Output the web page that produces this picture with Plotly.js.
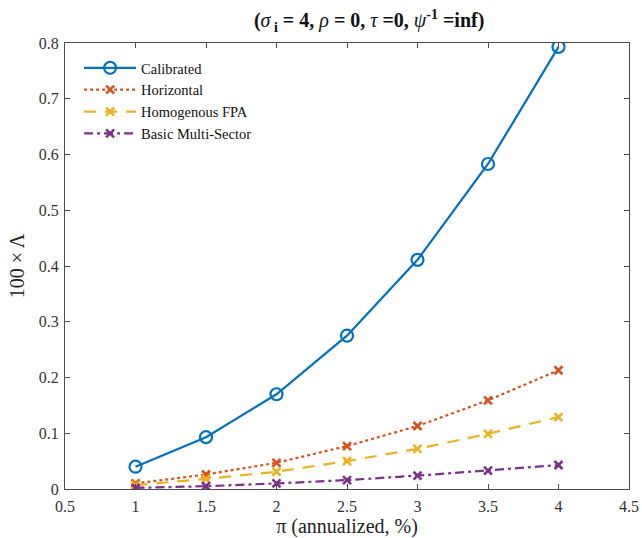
<!DOCTYPE html>
<html><head><meta charset="utf-8">
<script src="https://cdn.plot.ly/plotly-3.0.1.min.js"></script>
<style>html,body{margin:0;padding:0;background:#fff;}#chart{width:642px;height:538px;}</style>
</head><body><div id="chart"></div>
<script>
const inflation = [1, 1.5, 2, 2.5, 3, 3.5, 4];
const calibrated = [0.040, 0.093, 0.170, 0.275, 0.411, 0.583, 0.793];
const horizontal = [0.010, 0.026, 0.047, 0.077, 0.113, 0.159, 0.213];
const homogenousFPA = [0.007, 0.018, 0.031, 0.050, 0.072, 0.099, 0.129];
const basicMultiSector = [0.002, 0.005, 0.010, 0.016, 0.024, 0.033, 0.043];
const seriesNames = ['Calibrated', 'Horizontal', 'Homogenous FPA', 'Basic Multi-Sector'];
const xTicks = [0.5, 1, 1.5, 2, 2.5, 3, 3.5, 4, 4.5];
const yTicks = [0, 0.1, 0.2, 0.3, 0.4, 0.5, 0.6, 0.7, 0.8];

const colors = ['#0072BD', '#D95319', '#EDB120', '#7E2F8E'];
const serif = 'Liberation Serif, Times New Roman, serif';

const traces = [
  {x: inflation, y: calibrated, name: seriesNames[0], mode: 'lines+markers',
   line: {color: colors[0], width: 2.2},
   marker: {symbol: 'circle-open', size: 12, color: colors[0], line: {width: 2.2}}},
  {x: inflation, y: horizontal, name: seriesNames[1], mode: 'lines+markers',
   line: {color: colors[1], width: 2.2, dash: 'dot'},
   marker: {symbol: 'x-thin-open', size: 8, color: colors[1], line: {width: 2.6, color: colors[1]}}},
  {x: inflation, y: homogenousFPA, name: seriesNames[2], mode: 'lines+markers',
   line: {color: colors[2], width: 2.2, dash: '12px,9px'},
   marker: {symbol: 'x-thin-open', size: 8, color: colors[2], line: {width: 2.6, color: colors[2]}}},
  {x: inflation, y: basicMultiSector, name: seriesNames[3], mode: 'lines+markers',
   line: {color: colors[3], width: 2.2, dash: '9px,4px,3px,4px'},
   marker: {symbol: 'x-thin-open', size: 8, color: colors[3], line: {width: 2.6, color: colors[3]}}}
];

const axisCommon = {
  showgrid: false, zeroline: false, showline: true, linecolor: '#4d4d4d', linewidth: 1,
  mirror: 'ticks', ticks: 'inside', ticklen: 5, tickcolor: '#4d4d4d',
  tickfont: {family: serif, size: 16, color: '#333'}
};

const layout = {
  width: 642, height: 538,
  paper_bgcolor: '#fff', plot_bgcolor: '#fff',
  margin: {l: 65, r: 13, t: 43, b: 49},
  title: {text: '<b>(</b><i>σ</i><b><sub> i</sub> = 4, </b><i>ρ</i><b> = 0, </b><i>τ</i><b> =0, </b><i>ψ</i><b><sup>-1</sup> =inf)</b>',
          font: {family: serif, size: 20, color: '#111'}, x: 0.575, xanchor: 'center', y: 0.962, yanchor: 'middle'},
  xaxis: Object.assign({}, axisCommon, {range: [0.5, 4.5], tickvals: xTicks, ticktext: xTicks.map(String),
    ticklabelstandoff: 3,
    title: {text: 'π (annualized, %)', font: {family: serif, size: 20, color: '#222'}, standoff: 2}}),
  yaxis: Object.assign({}, axisCommon, {range: [0, 0.8], tickvals: yTicks, ticktext: yTicks.map(String),
    ticklabelstandoff: 2,
    title: {text: '100 × Λ', font: {family: serif, size: 20, color: '#222'}, standoff: 8}}),
  legend: {x: 0.025, y: 0.98, xanchor: 'left', yanchor: 'top', bgcolor: 'rgba(255,255,255,0)',
    borderwidth: 0, font: {family: serif, size: 14.5, color: '#111'}, tracegroupgap: 0, itemwidth: 52},
  showlegend: true
};

Plotly.newPlot('chart', traces, layout, {displayModeBar: false, staticPlot: true});
</script>
</body></html>
